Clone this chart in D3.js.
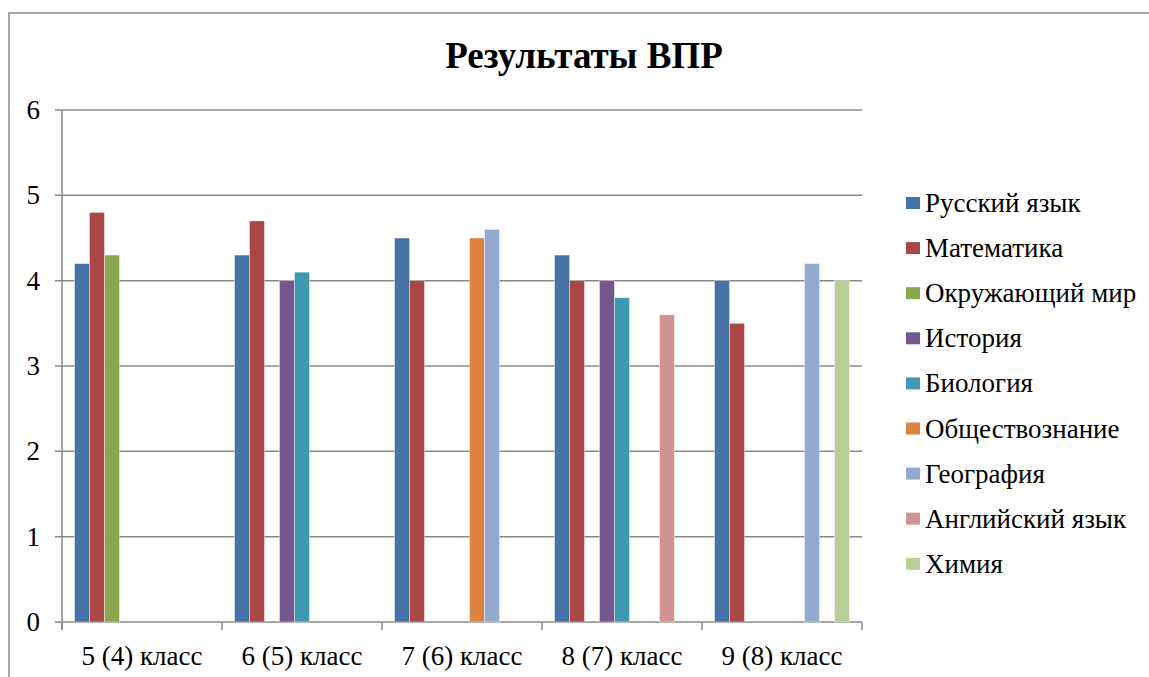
<!DOCTYPE html>
<html>
<head>
<meta charset="utf-8">
<script src="https://cdn.jsdelivr.net/npm/d3@7"></script>
<style>
  body { margin: 0; background: #fff; }
</style>
</head>
<body>
<div id="chart"></div>
<script>
// Классы (categories)
var classes = ["5 (4) класс", "6 (5) класс", "7 (6) класс", "8 (7) класс", "9 (8) класс"];
var subjects = ["Русский язык", "Математика", "Окружающий мир", "История", "Биология",
                "Обществознание", "География", "Английский язык", "Химия"];
var colors = ["#4572A7", "#AA4643", "#89A54E", "#71588F", "#4198AF",
              "#DB843D", "#93A9CF", "#D19392", "#B9CD96"];

// Значения по предметам (null = нет данных)
var russianVals   = [4.2, 4.3, 4.5, 4.3, 4.0];
var mathVals      = [4.8, 4.7, 4.0, 4.0, 3.5];
var okrMirVals    = [4.3, null, null, null, null];
var historyVals   = [null, 4.0, null, 4.0, null];
var biologyVals   = [null, 4.1, null, 3.8, null];
var obshchVals    = [null, null, 4.5, null, null];
var geographyVals = [null, null, 4.6, null, 4.2];
var englishVals   = [null, null, null, 3.6, null];
var chemistryVals = [null, null, null, null, 4.0];
var yTicks = [0, 1, 2, 3, 4, 5, 6];

var seriesVals = [russianVals, mathVals, okrMirVals, historyVals, biologyVals,
                  obshchVals, geographyVals, englishVals, chemistryVals];

var chartW = 1149, chartH = 677;
var plotLeft = 62, plotRight = 862, plotTop = 110, plotBottom = 622;
var serif = "Liberation Serif";

var svg = d3.select("#chart").append("svg")
    .attr("width", chartW)
    .attr("height", chartH);

// outer frame
svg.append("rect")
    .attr("x", 9).attr("y", 13)
    .attr("width", 1160).attr("height", 700)
    .attr("fill", "none")
    .attr("stroke", "#888")
    .attr("stroke-width", 1.5);

// title
svg.append("text")
    .attr("x", 584).attr("y", 68)
    .attr("text-anchor", "middle")
    .style("font-family", serif)
    .style("font-size", "37px")
    .style("font-weight", "bold")
    .text("Результаты ВПР");

var y = d3.scaleLinear().domain([0, 6]).range([plotBottom, plotTop]);
var x0 = d3.scaleBand().domain(classes).range([plotLeft, plotRight]);
var x1 = d3.scaleBand().domain(subjects).range([0, x0.bandwidth()]).paddingOuter(0.833);

// gridlines
svg.append("g")
    .selectAll("line")
    .data(yTicks)
    .enter().append("line")
    .attr("x1", plotLeft - 7).attr("x2", plotRight)
    .attr("y1", function(d) { return y(d); })
    .attr("y2", function(d) { return y(d); })
    .attr("stroke", "#888")
    .attr("stroke-width", 1.5);

// y labels
svg.append("g")
    .selectAll("text")
    .data(yTicks)
    .enter().append("text")
    .attr("x", 40)
    .attr("y", function(d) { return y(d) + 9; })
    .attr("text-anchor", "end")
    .style("font-family", serif)
    .style("font-size", "27px")
    .text(function(d) { return d; });

// bars
var bars = [];
seriesVals.forEach(function(vals, si) {
    vals.forEach(function(v, ci) {
        if (v !== null) bars.push({ subject: subjects[si], cls: classes[ci], value: v, color: colors[si] });
    });
});

svg.append("g")
    .selectAll("rect")
    .data(bars)
    .enter().append("rect")
    .attr("x", function(d) { return x0(d.cls) + x1(d.subject); })
    .attr("y", function(d) { return y(d.value); })
    .attr("width", x1.bandwidth())
    .attr("height", function(d) { return plotBottom - y(d.value); })
    .attr("fill", function(d) { return d.color; })
    .attr("stroke", "#fff")
    .attr("stroke-opacity", 0.5)
    .attr("stroke-width", 0.8);

// y axis line
svg.append("line")
    .attr("x1", plotLeft).attr("x2", plotLeft)
    .attr("y1", plotTop).attr("y2", plotBottom + 8)
    .attr("stroke", "#888").attr("stroke-width", 1.5);

// x axis ticks at group boundaries
var xBounds = classes.map(function(c) { return x0(c); }).concat([plotRight]);
svg.append("g")
    .selectAll("line")
    .data(xBounds)
    .enter().append("line")
    .attr("x1", function(d) { return d; })
    .attr("x2", function(d) { return d; })
    .attr("y1", plotBottom).attr("y2", plotBottom + 8)
    .attr("stroke", "#888").attr("stroke-width", 1.5);

// x labels
svg.append("g")
    .selectAll("text")
    .data(classes)
    .enter().append("text")
    .attr("x", function(d) { return x0(d) + x0.bandwidth() / 2; })
    .attr("y", 665)
    .attr("text-anchor", "middle")
    .style("font-family", serif)
    .style("font-size", "27px")
    .text(function(d) { return d; });

// legend
var legend = svg.append("g")
    .selectAll("g")
    .data(subjects)
    .enter().append("g")
    .attr("transform", function(d, i) { return "translate(906," + (203 + i * 45.1) + ")"; });

legend.append("rect")
    .attr("x", 0).attr("y", -6)
    .attr("width", 14).attr("height", 12)
    .attr("fill", function(d, i) { return colors[i]; });

legend.append("text")
    .attr("x", 19).attr("y", 9)
    .style("font-family", serif)
    .style("font-size", "27px")
    .text(function(d) { return d; });
</script>
</body>
</html>
